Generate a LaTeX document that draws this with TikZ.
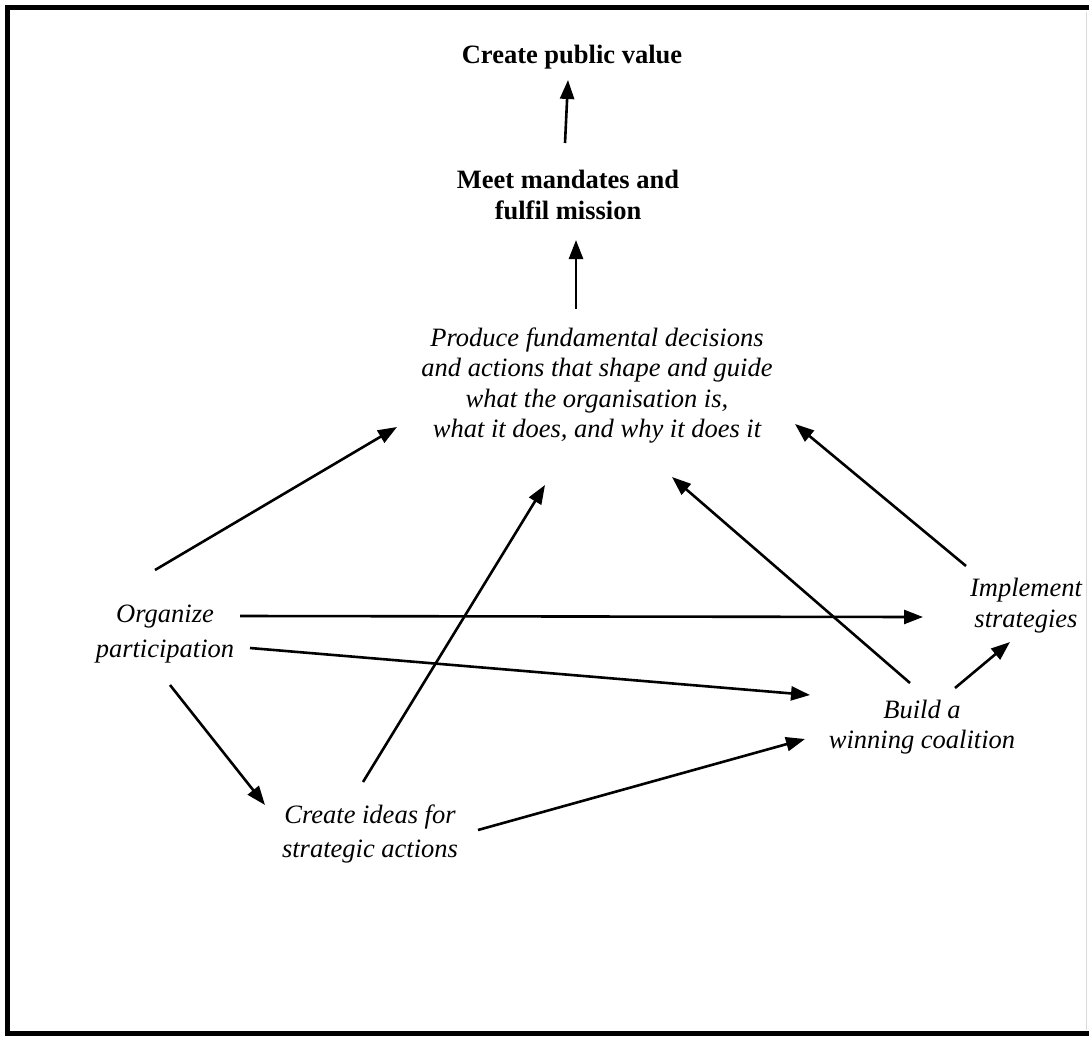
\documentclass[tikz,border=0pt]{standalone}
\usepackage{fontspec}
\setmainfont{Liberation Serif}
\usetikzlibrary{arrows.meta,calc}
\tikzset{
  lbl/.style={font=\fontsize{26.5}{31}\selectfont\itshape, align=center, inner sep=0pt},
  boldlbl/.style={font=\fontsize{26.5}{31}\selectfont\bfseries, align=center, inner sep=0pt},
  arr/.style={line width=2.6pt, -{Triangle[length=19pt,width=14pt]}},
  frame/.style={line width=4.5pt, black}
}
\begin{document}
\begin{tikzpicture}[x=1pt,y=-1pt]
\useasboundingbox (0,0) rectangle (1089,1036);
\fill[white] (0,0) rectangle (1089,1036);
% frame
\draw[frame] (1089,7.5) -- (7.5,7.5) -- (7.5,1033.5) -- (1089,1033.5);
\draw[line width=1pt, black!15] (1086,12) -- (1086,1030);
% nodes
\node[boldlbl, anchor=base] (cpv) at (572,63) {Create public value};
\node[boldlbl] (meet) at (568,194.5) {Meet mandates and\\fulfil mission};
\node[lbl, font=\fontsize{26.5}{30.3}\selectfont\itshape] (prod) at (597,385.5) {Produce fundamental decisions\\and actions that shape and guide\\what the organisation is,\\what it does, and why it does it};
\node[lbl, font=\fontsize{26.5}{35}\selectfont\itshape] (org) at (165,634.5) {Organize\\participation};
\node[lbl] (impl) at (1026,605.5) {Implement\\strategies};
\node[lbl, font=\fontsize{26.5}{30}\selectfont\itshape] (build) at (922,727) {Build a\\winning coalition};
\node[lbl, font=\fontsize{26.5}{34}\selectfont\itshape] (ideas) at (370,834) {Create ideas for\\strategic actions};
% connectors
\draw[arr] ($(meet.center)+(-3,-51.5)$) -- ($(cpv.base)+(-4,17)$);
\draw[arr] ($(prod.center)+(-21,-76.5)$) -- ($(meet.center)+(8,45.5)$);
\draw[arr] ($(org.center)+(-10,-64.5)$) -- ($(prod.center)+(-200,41.5)$);
\draw[arr] ($(org.center)+(75,-18.5)$) -- ($(impl.center)+(-103,11.5)$);
\draw[arr] ($(org.center)+(85,13.5)$) -- ($(build.center)+(-112,-32)$);
\draw[arr] ($(org.center)+(5,50.5)$) -- ($(ideas.center)+(-105,-29)$);
\draw[arr] ($(ideas.center)+(-7,-52)$) -- ($(prod.center)+(-52,99.5)$);
\draw[arr] ($(ideas.center)+(108,-4)$) -- ($(build.center)+(-117,12)$);
\draw[arr] ($(build.center)+(-12,-44)$) -- ($(prod.center)+(75,91.5)$);
\draw[arr] ($(build.center)+(33,-39)$) -- ($(impl.center)+(-16,36.5)$);
\draw[arr] ($(impl.center)+(-60,-39.5)$) -- ($(prod.center)+(198,38.5)$);
\end{tikzpicture}
\end{document}
